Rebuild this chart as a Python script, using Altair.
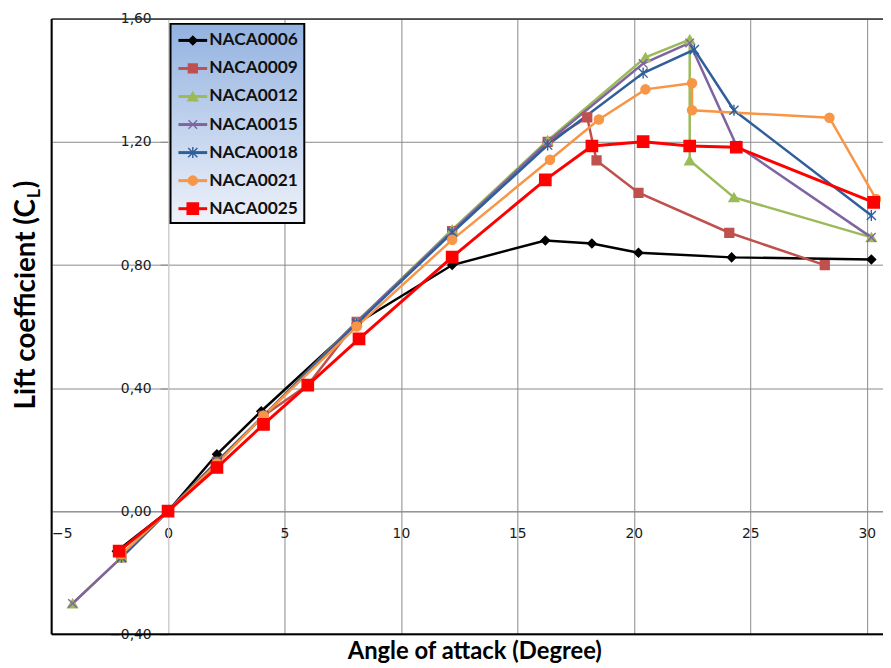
import altair as alt
import pandas as pd

series = ["NACA0006", "NACA0009", "NACA0012", "NACA0015", "NACA0018", "NACA0021", "NACA0025"]
colors = ["#000000", "#c0504d", "#9bbb59", "#8064a2", "#2f5f9a", "#f79646", "#ff0000"]
X_PATH = "M-1,-1L1,1M-1,1L1,-1"
AST_PATH = "M-1,-1L1,1M-1,1L1,-1M0,-1.2L0,1.2"
shapes = ["diamond", "square", "triangle-up", X_PATH, AST_PATH, "circle", "square"]
sizes = [75, 80, 100, 75, 85, 85, 130]
widths = [2.5, 2.5, 2.5, 2.5, 2.5, 2.5, 3.0]

aoa_0006 = [-2.2, 0, 2.1, 4.0, 8.1, 12.2, 16.2, 18.2, 20.2, 24.2, 30.2]
cl_0006 = [-0.13, 0.0, 0.185, 0.325, 0.61, 0.80, 0.88, 0.87, 0.84, 0.825, 0.818]

aoa_0009 = [-2.0, 0, 2.1, 4.1, 6.0, 8.1, 12.2, 16.3, 18.0, 18.4, 20.2, 24.1, 28.2]
cl_0009 = [-0.15, 0.0, 0.16, 0.31, 0.41, 0.615, 0.91, 1.20, 1.28, 1.14, 1.035, 0.905, 0.80]

aoa_0012 = [-4.1, -2.0, 0, 2.1, 4.1, 8.1, 12.2, 16.3, 20.5, 22.4, 22.4, 24.3, 30.2]
cl_0012 = [-0.30, -0.15, 0.0, 0.16, 0.31, 0.615, 0.915, 1.205, 1.475, 1.533, 1.14, 1.02, 0.89]

aoa_0015 = [-4.1, -2.0, 0, 2.1, 4.1, 8.1, 12.2, 16.3, 20.4, 22.4, 24.4, 30.2]
cl_0015 = [-0.30, -0.15, 0.0, 0.16, 0.31, 0.615, 0.91, 1.20, 1.455, 1.522, 1.19, 0.89]

aoa_0018 = [-2.0, 0, 2.1, 4.1, 8.1, 12.2, 16.3, 20.4, 22.6, 24.3, 30.2]
cl_0018 = [-0.15, 0.0, 0.16, 0.31, 0.61, 0.905, 1.19, 1.424, 1.50, 1.303, 0.961]

aoa_0021 = [-2.0, 0, 2.1, 4.1, 8.1, 12.2, 16.4, 18.5, 20.5, 22.5, 22.5, 28.4, 30.4]
cl_0021 = [-0.14, 0.0, 0.155, 0.31, 0.60, 0.882, 1.142, 1.273, 1.371, 1.391, 1.303, 1.279, 1.015]

aoa_0025 = [-2.1, 0, 2.1, 4.1, 6.0, 8.2, 12.2, 16.2, 18.2, 20.4, 22.4, 24.4, 30.3]
cl_0025 = [-0.13, 0.0, 0.142, 0.282, 0.41, 0.56, 0.826, 1.077, 1.187, 1.201, 1.187, 1.183, 1.004]

x_ticks = [-5, 0, 5, 10, 15, 20, 25, 30]
y_ticks = [-0.4, 0.0, 0.4, 0.8, 1.2, 1.6]

aoa_all = [aoa_0006, aoa_0009, aoa_0012, aoa_0015, aoa_0018, aoa_0021, aoa_0025]
cl_all = [cl_0006, cl_0009, cl_0012, cl_0015, cl_0018, cl_0021, cl_0025]

rows = []
for s, xs, ys in zip(series, aoa_all, cl_all):
    for i, (a, c) in enumerate(zip(xs, ys)):
        rows.append({"series": s, "aoa": a, "cl": c, "i": i})
df = pd.DataFrame(rows)
leg_df = pd.DataFrame({"series": series, "k": list(range(len(series)))})

W, H = 839, 621
XDOM = [-5, 30.7]
YDOM = [-0.4, 1.6]
x0_px = (0 - XDOM[0]) / (XDOM[1] - XDOM[0]) * W
y0_px = (0 - YDOM[0]) / (YDOM[1] - YDOM[0]) * H

color_scale = alt.Scale(domain=series, range=colors)
shape_scale = alt.Scale(domain=series, range=shapes)
size_scale = alt.Scale(type="ordinal", domain=series, range=sizes)
width_scale = alt.Scale(type="ordinal", domain=series, range=widths)

x_enc = alt.X(
    "aoa:Q",
    scale=alt.Scale(domain=XDOM, nice=False, zero=False),
    axis=alt.Axis(
        values=x_ticks, title=None, offset=-y0_px, ticks=False, labelPadding=16,
        domain=True, domainColor="#8a8a8a", grid=True,
        gridColor=alt.condition("datum.value === 0", alt.value("#cfcfcf"), alt.value("#8a8a8a")),
        labelFont="DejaVu Sans", labelFontSize=14, labelColor="#1a1a1a",
    ),
)
y_enc = alt.Y(
    "cl:Q",
    scale=alt.Scale(domain=YDOM, nice=False, zero=False),
    axis=alt.Axis(
        values=y_ticks, title=None, offset=-x0_px, ticks=True, tickSize=8, tickColor="#8a8a8a",
        labelPadding=9, domain=True, domainColor="#cfcfcf", grid=True, gridColor="#8a8a8a",
        labelExpr="replace(format(datum.value, '.2f'), '.', ',')",
        labelFont="DejaVu Sans", labelFontSize=14, labelColor="#1a1a1a",
    ),
)

lines = alt.Chart(df).mark_line().encode(
    x=x_enc, y=y_enc,
    color=alt.Color("series:N", scale=color_scale, legend=None),
    strokeWidth=alt.StrokeWidth("series:N", scale=width_scale, legend=None),
    order="i:Q",
)
points = alt.Chart(df).mark_point(filled=True, strokeWidth=1.4, opacity=1).encode(
    x="aoa:Q", y="cl:Q",
    color=alt.Color("series:N", scale=color_scale, legend=None),
    stroke=alt.Stroke("series:N", scale=color_scale, legend=None),
    shape=alt.Shape("series:N", scale=shape_scale, legend=None),
    size=alt.Size("series:N", scale=size_scale, legend=None),
)

# legend
one = pd.DataFrame({"a": [0]})
leg_box = alt.Chart(one).mark_rect(
    fill=alt.LinearGradient(
        gradient="linear",
        stops=[alt.GradientStop(color="#93b2e0", offset=0), alt.GradientStop(color="#eef2fa", offset=1)],
        x1=0, x2=0, y1=0, y2=1,
    ),
    stroke="black", strokeWidth=2,
).encode(x=alt.value(120), x2=alt.value(255), y=alt.value(5), y2=alt.value(206))

leg_base = alt.Chart(leg_df).transform_calculate(
    ly="21.7 + datum.k * 28.3", lx1="128", lx2="157", lxm="142.5", lxt="159"
)
leg_rules = leg_base.mark_rule(strokeWidth=3).encode(
    x=alt.X("lx1:Q", scale=None, axis=None), x2="lx2:Q",
    y=alt.Y("ly:Q", scale=None, axis=None),
    color=alt.Color("series:N", scale=color_scale, legend=None),
)
leg_pts = leg_base.mark_point(filled=True, strokeWidth=1.4, opacity=1).encode(
    x=alt.X("lxm:Q", scale=None, axis=None),
    y=alt.Y("ly:Q", scale=None, axis=None),
    color=alt.Color("series:N", scale=color_scale, legend=None),
    stroke=alt.Stroke("series:N", scale=color_scale, legend=None),
    shape=alt.Shape("series:N", scale=shape_scale, legend=None),
    size=alt.Size("series:N", scale=size_scale, legend=None),
)
leg_text = leg_base.mark_text(
    align="left", baseline="middle", font="Lato", fontWeight="bold", fontSize=17.5, color="#111111"
).encode(
    x=alt.X("lxt:Q", scale=None, axis=None),
    y=alt.Y("ly:Q", scale=None, axis=None),
    text="series:N",
)

# frame
frame_left = alt.Chart(one).mark_rule(color="black", strokeWidth=2).encode(
    x=alt.value(0), y=alt.value(0), y2=alt.value(H))
frame_bottom = alt.Chart(one).mark_rule(color="black", strokeWidth=2).encode(
    x=alt.value(0), x2=alt.value(W), y=alt.value(H))
frame_top = alt.Chart(one).mark_rule(color="#333333", strokeWidth=1.5).encode(
    x=alt.value(0), x2=alt.value(W), y=alt.value(0))

# titles
tfont = dict(font="Lato", fontWeight="bold", color="black")
x_title = alt.Chart(one).mark_text(text="Angle of attack (Degree)", align="center",
                                   baseline="alphabetic", fontSize=24, **tfont).encode(
    x=alt.value(427), y=alt.value(646))
y_title_main = alt.Chart(one).mark_text(text="Lift  coefficient (C", align="right", angle=270,
                                        baseline="alphabetic", fontSize=28, **tfont).encode(
    x=alt.value(-17), y=alt.value(182))
y_title_sub = alt.Chart(one).mark_text(text="L", align="left", angle=270,
                                       baseline="alphabetic", fontSize=18, **tfont).encode(
    x=alt.value(-12), y=alt.value(181))
y_title_end = alt.Chart(one).mark_text(text=")", align="left", angle=270,
                                       baseline="alphabetic", fontSize=28, **tfont).encode(
    x=alt.value(-17), y=alt.value(171))

chart = alt.layer(
    lines, points, frame_top, frame_left, frame_bottom,
    leg_box, leg_rules, leg_pts, leg_text,
    x_title, y_title_main, y_title_sub, y_title_end,
).properties(
    width=W, height=H,
    padding={"left": 44, "top": 8, "right": 0, "bottom": 30},
    autosize=alt.AutoSizeParams(type="none"),
).configure_view(stroke=None)

chart.save("out.html", embed_options={"renderer": "svg", "actions": False})
